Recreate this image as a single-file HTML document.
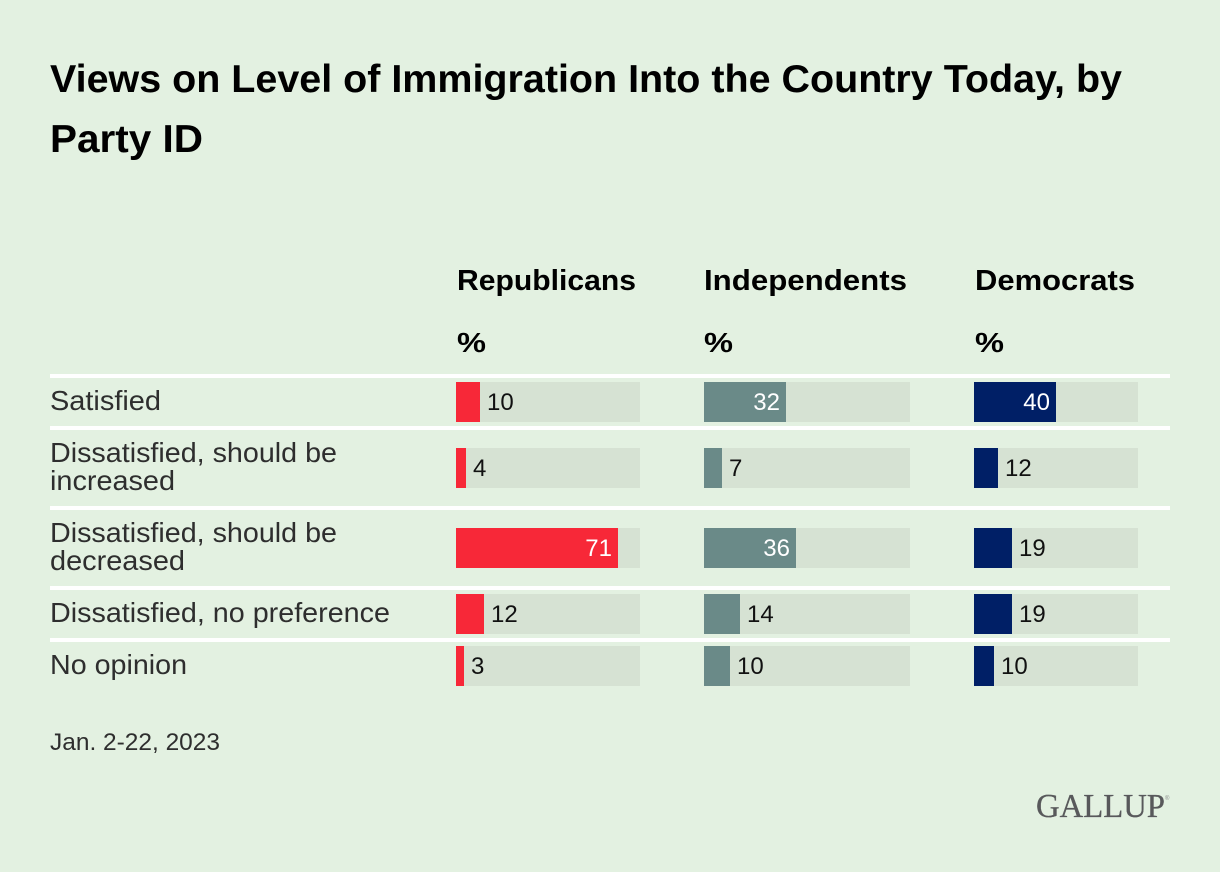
<!DOCTYPE html>
<html lang="en">
<head>
<meta charset="utf-8">
<title>Views on Level of Immigration Into the Country Today, by Party ID</title>
<style>
html,body{margin:0;padding:0;background:#e3f1e1;}
svg{display:block;font-family:"Liberation Sans",sans-serif;}
</style>
</head>
<body>
<svg id="chart" xmlns="http://www.w3.org/2000/svg" width="1220" height="872" viewBox="0 0 1220 872">
  <rect x="0" y="0" width="1220" height="872" fill="#e3f1e1"/>
  <text x="50" y="92" font-size="39" font-weight="700" fill="#000" textLength="1072" lengthAdjust="spacingAndGlyphs">Views on Level of Immigration Into the Country Today, by</text>
  <text x="50" y="152" font-size="39" font-weight="700" fill="#000" textLength="153" lengthAdjust="spacingAndGlyphs">Party ID</text>

  <text x="457" y="290" font-size="29" font-weight="700" fill="#000" textLength="179" lengthAdjust="spacingAndGlyphs">Republicans</text>
  <text x="704" y="290" font-size="29" font-weight="700" fill="#000" textLength="203" lengthAdjust="spacingAndGlyphs">Independents</text>
  <text x="975" y="290" font-size="29" font-weight="700" fill="#000" textLength="160" lengthAdjust="spacingAndGlyphs">Democrats</text>
  <text x="457" y="352" font-size="28" font-weight="700" fill="#000" textLength="29" lengthAdjust="spacingAndGlyphs">%</text>
  <text x="704" y="352" font-size="28" font-weight="700" fill="#000" textLength="29" lengthAdjust="spacingAndGlyphs">%</text>
  <text x="975" y="352" font-size="28" font-weight="700" fill="#000" textLength="29" lengthAdjust="spacingAndGlyphs">%</text>

  <rect x="50" y="374" width="1120" height="4" fill="#fff"/>
  <rect x="50" y="426" width="1120" height="4" fill="#fff"/>
  <rect x="50" y="506" width="1120" height="4" fill="#fff"/>
  <rect x="50" y="586" width="1120" height="4" fill="#fff"/>
  <rect x="50" y="638" width="1120" height="4" fill="#fff"/>

  <text x="50" y="410" font-size="28" fill="#2e2e2e" textLength="111" lengthAdjust="spacingAndGlyphs">Satisfied</text>
  <text font-size="28" fill="#2e2e2e"><tspan x="50" y="462" textLength="287" lengthAdjust="spacingAndGlyphs">Dissatisfied, should be</tspan><tspan x="50" y="490" textLength="125" lengthAdjust="spacingAndGlyphs">increased</tspan></text>
  <text font-size="28" fill="#2e2e2e"><tspan x="50" y="542" textLength="287" lengthAdjust="spacingAndGlyphs">Dissatisfied, should be</tspan><tspan x="50" y="570" textLength="135" lengthAdjust="spacingAndGlyphs">decreased</tspan></text>
  <text x="50" y="622" font-size="28" fill="#2e2e2e" textLength="340" lengthAdjust="spacingAndGlyphs">Dissatisfied, no preference</text>
  <text x="50" y="674" font-size="28" fill="#2e2e2e" textLength="137" lengthAdjust="spacingAndGlyphs">No opinion</text>

  <g id="bars"></g>

  <text x="50" y="750" font-size="24" fill="#2e2e2e" textLength="170" lengthAdjust="spacingAndGlyphs">Jan. 2-22, 2023</text>
  <text x="1036" y="817" font-family="'Liberation Serif',serif" font-size="34" fill="#58595b" stroke="#58595b" stroke-width="0.3" textLength="129" lengthAdjust="spacingAndGlyphs">GALLUP</text>
  <text x="1165" y="800" font-family="'Liberation Sans',sans-serif" font-size="6" fill="#8a8b8c">®</text>
</svg>
<script>
const categories = ['satisfied', 'should-be-increased', 'should-be-decreased', 'no-preference', 'no-opinion'];
const republicans = [10, 4, 71, 12, 3];
const independents = [32, 7, 36, 14, 10];
const democrats = [40, 12, 19, 19, 10];
const axisMax = 80.7;

const svgNS = 'http://www.w3.org/2000/svg';
const barsLayer = document.getElementById('bars');
const rowTops = [382, 448, 528, 594, 646];
const barHeight = 40;
const panels = [
  { key: 'republicans', values: republicans, left: 456, width: 184, color: '#f72838' },
  { key: 'independents', values: independents, left: 704, width: 206, color: '#6a8a88' },
  { key: 'democrats', values: democrats, left: 974, width: 164, color: '#001f66' }
];

function barLength(value, panel) {
  return 2 * Math.round(value * panel.width / axisMax / 2 + 0.15);
}

function makeRect(x, y, w, h, fill) {
  const r = document.createElementNS(svgNS, 'rect');
  r.setAttribute('x', x);
  r.setAttribute('y', y);
  r.setAttribute('width', w);
  r.setAttribute('height', h);
  r.setAttribute('fill', fill);
  return r;
}

panels.forEach(function (panel) {
  panel.values.forEach(function (value, i) {
    const top = rowTops[i];
    const len = barLength(value, panel);

    const track = makeRect(panel.left, top, panel.width, barHeight, '#d6e2d3');
    
    
    barsLayer.appendChild(track);

    const bar = makeRect(panel.left, top, len, barHeight, panel.color);
    
    
    barsLayer.appendChild(bar);

    const inside = len >= 60;
    const label = document.createElementNS(svgNS, 'text');
    
    
    label.setAttribute('x', inside ? panel.left + len - 6 : panel.left + len + 7);
    label.setAttribute('y', top + 28);
    label.setAttribute('font-size', '24');
    label.setAttribute('text-anchor', inside ? 'end' : 'start');
    label.setAttribute('fill', inside ? '#ffffff' : '#111111');
    label.textContent = String(value);
    barsLayer.appendChild(label);
  });
});
</script>
</body>
</html>
